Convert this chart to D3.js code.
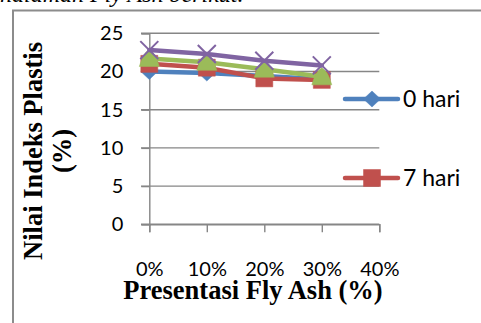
<!DOCTYPE html>
<html>
<head>
<meta charset="utf-8">
<script src="https://cdn.jsdelivr.net/npm/d3@7"></script>
<style>
  html, body { margin: 0; padding: 0; background: #fff; }
  svg { display: block; }
</style>
</head>
<body>
<svg id="chart" width="481" height="323"></svg>
<script>
// Categories (fly ash content) and plasticity index per curing time
const categories = ["0%", "10%", "20%", "30%", "40%"];
const seriesNames = ["0 hari", "7 hari", "14 hari", "28 hari"];
const hari0  = [20.0, 19.8, 19.4, 19.0];
const hari7  = [21.0, 20.5, 19.1, 18.9];
const hari14 = [21.7, 21.2, 20.3, 19.3];
const hari28 = [22.8, 22.3, 21.4, 20.8];
const yTicks = [0, 5, 10, 15, 20, 25];
const colors = ["#4F81BD", "#C0504D", "#9BBB59", "#8064A2"];
const markers = ["diamond", "square", "triangle", "x"];
const legendShown = 2;

const series = [hari0, hari7, hari14, hari28].map((vals, i) => ({
  name: seriesNames[i], color: colors[i], marker: markers[i],
  points: vals.map((v, j) => ({ cat: categories[j], v }))
}));

const svg = d3.select("#chart");
const sans = "Lato, Carlito, Calibri, sans-serif";
const serif = "Liberation Serif, Times New Roman, serif";

// Paragraph text above the chart, mostly cut off by the page edge
svg.append("text")
  .attr("x", 0).attr("y", 2)
  .attr("font-family", serif)
  .attr("font-style", "italic")
  .attr("font-size", 24)
  .attr("fill", "#000")
  .text("halaman Fly Ash berikut.");

// Chart area border
svg.append("rect")
  .attr("x", 13).attr("y", 10.5)
  .attr("width", 500).attr("height", 340)
  .attr("fill", "none").attr("stroke", "#8c8c8c").attr("stroke-width", 2);

const x = d3.scalePoint().domain(categories).range([149.3, 379.3]);
const y = d3.scaleLinear().domain([0, 25]).range([224.3, 33.3]);

const gridColor = "#868686";

// Horizontal gridlines
svg.append("g").selectAll("line").data(yTicks).join("line")
  .attr("x1", 141).attr("x2", 379.3)
  .attr("y1", d => y(d)).attr("y2", d => y(d))
  .attr("stroke", gridColor).attr("stroke-width", 1.4);

// Y axis
const yAxis = svg.append("g")
  .attr("transform", `translate(${x(categories[0])},0)`)
  .call(d3.axisLeft(y).tickValues(yTicks).tickSize(8).tickPadding(18));
yAxis.select(".domain").attr("stroke", gridColor).attr("stroke-width", 1.4);
yAxis.selectAll(".tick line").attr("stroke", gridColor).attr("stroke-width", 1.4);
yAxis.selectAll(".tick text")
  .attr("font-family", sans).attr("font-size", 20).attr("fill", "#000");

// X axis
const xAxis = svg.append("g")
  .attr("transform", `translate(0,${y(0)})`)
  .call(d3.axisBottom(x).tickSize(8).tickPadding(30));
xAxis.select(".domain").attr("stroke", gridColor).attr("stroke-width", 1.4);
xAxis.selectAll(".tick line").attr("stroke", gridColor).attr("stroke-width", 1.4);
xAxis.selectAll(".tick text")
  .attr("font-family", sans).attr("font-size", 20).attr("fill", "#000");

// Marker shapes
function markerPath(type) {
  const p = d3.path();
  if (type === "diamond") {
    p.moveTo(0, -8); p.lineTo(8.5, 0); p.lineTo(0, 8); p.lineTo(-8.5, 0); p.closePath();
  } else if (type === "square") {
    p.rect(-8.5, -8.5, 17, 17);
  } else if (type === "triangle") {
    p.moveTo(0, -9); p.quadraticCurveTo(6, -6, 10, 8); p.lineTo(-10, 8);
    p.quadraticCurveTo(-6, -6, 0, -9); p.closePath();
  } else {
    p.moveTo(-9, -9); p.lineTo(9, 9); p.moveTo(9, -9); p.lineTo(-9, 9);
  }
  return p.toString();
}

const line = d3.line().x(d => x(d.cat)).y(d => y(d.v));

const sg = svg.append("g").selectAll("g").data(series).join("g");
sg.append("path")
  .attr("d", d => line(d.points))
  .attr("fill", "none").attr("stroke", d => d.color)
  .attr("stroke-width", 4.5).attr("stroke-linejoin", "round").attr("stroke-linecap", "round");
sg.each(function (s) {
  d3.select(this).selectAll("path.m").data(s.points).join("path")
    .attr("class", "m")
    .attr("transform", d => `translate(${x(d.cat)},${y(d.v)})`)
    .attr("d", markerPath(s.marker))
    .attr("fill", s.marker === "x" ? "none" : s.color)
    .attr("stroke", s.color)
    .attr("stroke-width", s.marker === "x" ? 2 : 0.5);
});

// Legend (only the first entries fit in the chart area)
const legend = svg.append("g").selectAll("g").data(series.slice(0, legendShown)).join("g")
  .attr("transform", (d, i) => `translate(0,${99 + i * 79})`);
legend.append("line")
  .attr("x1", 345).attr("x2", 398).attr("y1", 0).attr("y2", 0)
  .attr("stroke", d => d.color).attr("stroke-width", 4.5).attr("stroke-linecap", "round");
legend.append("path")
  .attr("transform", "translate(372,0)")
  .attr("d", d => markerPath(d.marker))
  .attr("fill", d => d.color).attr("stroke", d => d.color).attr("stroke-width", 0.5);
legend.append("text")
  .attr("x", 403).attr("y", 7.7)
  .attr("font-family", sans).attr("font-size", 23).attr("fill", "#000")
  .text(d => d.name);

// Axis titles
svg.append("text")
  .attr("x", 253).attr("y", 299)
  .attr("text-anchor", "middle")
  .attr("font-family", serif)
  .attr("font-weight", "bold").attr("font-size", 26.5)
  .text("Presentasi Fly Ash (%)");

const yt = svg.append("text")
  .attr("transform", "translate(42,151) rotate(-90)")
  .attr("text-anchor", "middle")
  .attr("font-family", serif)
  .attr("font-weight", "bold").attr("font-size", 26.5);
yt.append("tspan").attr("x", 0).attr("y", 0).text("Nilai Indeks Plastis");
yt.append("tspan").attr("x", 0).attr("y", 29).text("(%)");
</script>
</body>
</html>
